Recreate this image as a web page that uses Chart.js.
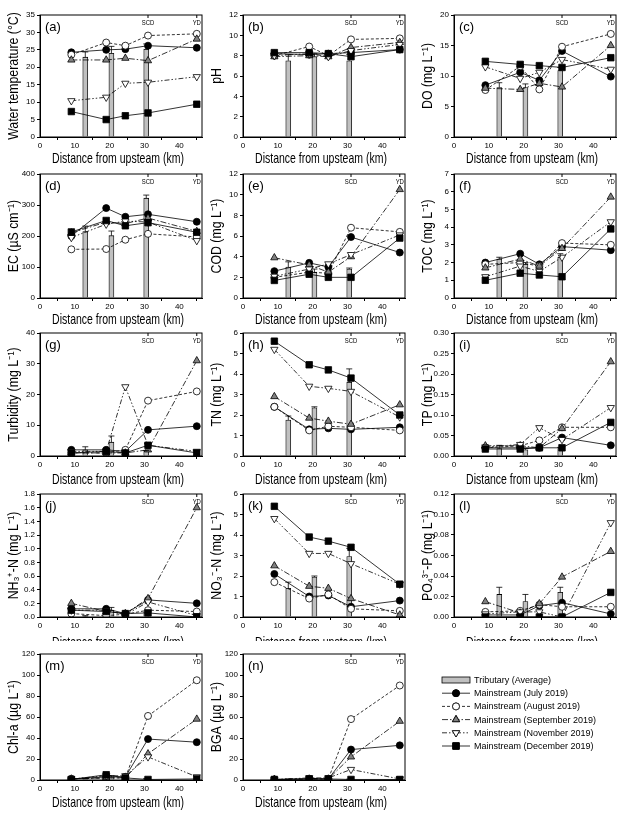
<!DOCTYPE html>
<html>
<head>
<meta charset="utf-8">
<script src="https://cdn.jsdelivr.net/npm/chart.js@4.4.1/dist/chart.umd.min.js"></script>
<style>
body { margin: 0; background: #fff; width: 629px; height: 820px; position: relative; overflow: hidden; }
canvas { position: absolute; }
#cover { position: absolute; left: 0; top: 641px; width: 629px; height: 179px; background: #fff; z-index: 1; }
.front { z-index: 2; }
</style>
</head>
<body>
<div id="cover"></div>
<script>
// sampling sites (km from upstream)
const sites = [9, 19, 24.5, 31, 45];
const tribSites = [13, 20.5, 30.5];
const distTicks = [0, 10, 20, 30, 40];
const months = ['July 2019', 'August 2019', 'September 2019', 'November 2019', 'December 2019'];

// rows: July, August, September, November, December
const tempMain = [[24.3, 25.0, 25.2, 26.2, 25.6], [23.6, 27.1, 26.2, 29.1, 29.6], [22.1, 22.1, 22.6, 21.9, 28.1], [10.4, 11.4, 15.4, 15.7, 17.3], [7.3, 5.0, 6.1, 6.9, 9.4]];
const tempTrib = [22.9, 24.0, 25.2], tempErr = [1.5, 2.0, 1.5];

const phMain = [[8.2, 8.1, 8.2, 8.3, 8.6], [8.0, 8.9, 8.0, 9.6, 9.7], [7.9, 8.0, 7.9, 8.8, 9.3], [8.0, 8.2, 7.9, 8.5, 9.1], [8.3, 8.3, 8.2, 7.9, 8.6]];
const phTrib = [7.5, 7.9, 7.5], phErr = [0.6, 0.3, 0.6];

const doMain = [[8.5, 10.6, 9.3, 14.1, 9.9], [7.7, 11.6, 7.8, 14.8, 16.9], [8.0, 7.8, 8.8, 8.2, 15.0], [11.5, 9.6, 10.6, 12.7, 11.1], [12.4, 11.9, 11.7, 11.4, 13.0]];
const doTrib = [8.1, 8.1, 10.9], doErr = [0.8, 0.6, 0.5];

const ecMain = [[200, 290, 262, 270, 246], [157, 158, 188, 207, 197], [210, 245, 240, 258, 215], [195, 238, 248, 245, 185], [213, 250, 233, 243, 212]];
const ecTrib = [214, 201, 322], ecErr = [18, 15, 10];

const codMain = [[2.6, 3.4, 3.0, 5.9, 4.4], [2.0, 2.5, 2.4, 6.8, 6.4], [3.9, 3.2, 2.5, 4.0, 10.5], [2.1, 2.8, 3.3, 4.2, 6.1], [1.7, 2.3, 2.0, 2.0, 5.8]];
const codTrib = [3.0, 2.5, 2.8], codErr = [0.5, 0.3, 0.1];

const tocMain = [[2.0, 2.5, 1.9, 2.9, 2.7], [1.9, 2.0, 1.8, 3.1, 3.0], [1.7, 2.2, 1.8, 2.8, 5.7], [1.2, 1.8, 1.5, 2.3, 4.3], [1.0, 1.4, 1.3, 1.2, 3.9]];
const tocTrib = [2.2, 1.9, 2.3], tocErr = [0.1, 0.1, 0.2];

const turbMain = [[2.0, 2.0, 1.5, 8.5, 9.7], [1.0, 1.0, 2.0, 18.0, 21.0], [1.0, 1.0, 1.0, 2.0, 31.0], [1.5, 1.5, 22.5, 3.5, 1.5], [1.0, 1.5, 1.0, 3.5, 1.0]];
const turbTrib = [2.0, 4.5, 1.5], turbErr = [1.0, 2.0, 0.3];

const tnMain = [[2.4, 1.3, 1.35, 1.3, 1.4], [2.4, 1.25, 1.45, 1.4, 1.25], [2.9, 1.85, 1.7, 1.55, 2.5], [5.2, 3.4, 3.3, 3.15, 1.9], [5.6, 4.45, 4.2, 3.8, 2.0]];
const tnTrib = [1.75, 2.35, 3.6], tnErr = [0.2, 0.05, 0.65];

const tpMain = [[0.02, 0.02, 0.02, 0.045, 0.026], [0.02, 0.025, 0.038, 0.07, 0.07], [0.025, 0.025, 0.02, 0.067, 0.23], [0.022, 0.028, 0.069, 0.04, 0.118], [0.017, 0.017, 0.02, 0.02, 0.082]];
const tpTrib = [0.018, 0.015, 0.018], tpErr = [0.008, 0.003, 0.003];

const nh3Main = [[0.12, 0.12, 0.05, 0.25, 0.2], [0.05, 0.02, 0.04, 0.1, 0.08], [0.2, 0.08, 0.05, 0.27, 1.6], [0.1, 0.1, 0.03, 0.22, 0.02], [0.1, 0.08, 0.05, 0.06, 0.0]];
const nh3Trib = [0.01, 0.1, 0.05], nh3Err = [0.01, 0.04, 0.02];

const no3Main = [[2.1, 1.0, 1.05, 0.5, 0.8], [1.7, 0.9, 1.1, 0.4, 0.3], [2.5, 1.5, 1.4, 0.9, 0.1], [4.8, 3.1, 3.1, 2.6, 1.6], [5.4, 3.9, 3.7, 3.4, 1.6]];
const no3Trib = [1.4, 1.95, 2.95], no3Err = [0.3, 0.05, 0.4];

const po4Main = [[0.002, 0.002, 0.011, 0.014, 0.003], [0.005, 0.006, 0.012, 0.010, 0.010], [0.015, 0.004, 0.013, 0.039, 0.064], [0.003, 0.005, 0.005, 0.000, 0.092], [0.000, 0.000, 0.000, 0.000, 0.024]];
const po4Trib = [0.022, 0.015, 0.024], po4Err = [0.007, 0.007, 0.005];

const chlMain = [[1, 3, 3, 39, 36], [1, 2, 2, 61, 95], [1, 2, 2, 25, 58], [1, 4, 4, 22, 3], [0.5, 5, 2, 0.5, 1]];
const chlTrib = [1, 3, 1], chlErr = [0.5, 1, 0.5];

const bgaMain = [[0.5, 1, 1, 29, 33], [0.5, 1, 1, 58, 90], [0.5, 1, 1, 22, 56], [0.5, 2, 2, 10, 1], [0.5, 1, 1, 0.5, 0.5]];
const bgaTrib = [0.5, 1, 0.5], bgaErr = [0.3, 0.5, 0.3];

const SANS = "'Liberation Sans', Arial, sans-serif";
const XTITLE = 'Distance from upsteam (km)';

// marker/line style per month
const styles = [
  { dash: [], point: 'circle', rot: 0, r: 3.5, fill: '#000' },
  { dash: [3, 2], point: 'circle', rot: 0, r: 3.5, fill: '#fff' },
  { dash: [6, 2, 1.5, 2], point: 'triangle', rot: 0, r: 4.2, fill: '#808080' },
  { dash: [5, 2, 1.5, 2, 1.5, 2], point: 'triangle', rot: 180, r: 4.2, fill: '#fff' },
  { dash: [], point: 'rect', rot: 0, r: 4.6, fill: '#000' }
];

const colLeft = [40, 243, 454];
const rowTop = [15, 174, 333, 494, 654];
const rowH = [122, 124, 123, 123, 126];
const titleGap = [22, 22, 24, 26, 23];
const PW = 162, PADL = 40, PADT = 14, PADR = 6, PADB = 38;

const panels = [
  { tag: '(a)', title: 'Water temperature (°C)', main: tempMain, trib: tempTrib, err: tempErr, max: 35, step: 5, dec: 0 },
  { tag: '(b)', title: 'pH', main: phMain, trib: phTrib, err: phErr, max: 12, step: 2, dec: 0 },
  { tag: '(c)', title: 'DO (mg L\u207B\u00B9)', main: doMain, trib: doTrib, err: doErr, max: 20, step: 5, dec: 0 },
  { tag: '(d)', title: 'EC (\u00B5S cm\u207B\u00B9)', main: ecMain, trib: ecTrib, err: ecErr, max: 400, step: 100, dec: 0 },
  { tag: '(e)', title: 'COD (mg L\u207B\u00B9)', main: codMain, trib: codTrib, err: codErr, max: 12, step: 2, dec: 0 },
  { tag: '(f)', title: 'TOC (mg L\u207B\u00B9)', main: tocMain, trib: tocTrib, err: tocErr, max: 7, step: 1, dec: 0 },
  { tag: '(g)', title: 'Turbidity (mg L\u207B\u00B9)', main: turbMain, trib: turbTrib, err: turbErr, max: 40, step: 10, dec: 0 },
  { tag: '(h)', title: 'TN (mg L\u207B\u00B9)', main: tnMain, trib: tnTrib, err: tnErr, max: 6, step: 1, dec: 0 },
  { tag: '(i)', title: 'TP (mg L\u207B\u00B9)', main: tpMain, trib: tpTrib, err: tpErr, max: 0.30, step: 0.05, dec: 2 },
  { tag: '(j)', title: 'NH\u2083\u207A-N (mg L\u207B\u00B9)', main: nh3Main, trib: nh3Trib, err: nh3Err, max: 1.8, step: 0.2, dec: 1 },
  { tag: '(k)', title: 'NO\u2083\u207B-N (mg L\u207B\u00B9)', main: no3Main, trib: no3Trib, err: no3Err, max: 6, step: 1, dec: 0 },
  { tag: '(l)', title: 'PO\u2084\u00B3\u207B-P (mg L\u207B\u00B9)', main: po4Main, trib: po4Trib, err: po4Err, max: 0.12, step: 0.02, dec: 2 },
  { tag: '(m)', title: 'Chl-a (\u00B5g L\u207B\u00B9)', main: chlMain, trib: chlTrib, err: chlErr, max: 120, step: 20, dec: 0 },
  { tag: '(n)', title: 'BGA (\u00B5g L\u207B\u00B9)', main: bgaMain, trib: bgaTrib, err: bgaErr, max: 120, step: 20, dec: 0 }
];

// frame, panel tag, SCD / YD marks, error bars, condensed axis titles
const decor = {
  id: 'decor',
  afterDatasetsDraw(chart, args, opts) {
    const ctx = chart.ctx, a = chart.chartArea;
    const xs = chart.scales.x, ys = chart.scales.y;
    ctx.save();
    ctx.strokeStyle = '#000';
    ctx.lineWidth = 0.8;
    const bars = chart.getDatasetMeta(0).data;
    opts.err.forEach((e, i) => {
      const bar = bars[i];
      const top = ys.getPixelForValue(opts.trib[i] + e);
      ctx.beginPath();
      ctx.moveTo(bar.x, bar.y);
      ctx.lineTo(bar.x, top);
      ctx.moveTo(bar.x - 3, top);
      ctx.lineTo(bar.x + 3, top);
      ctx.stroke();
    });
    ctx.lineWidth = 1;
    ctx.strokeRect(a.left, a.top, a.right - a.left, a.bottom - a.top);
    ctx.fillStyle = '#000';
    ctx.font = '13px ' + SANS;
    ctx.textBaseline = 'middle';
    ctx.textAlign = 'left';
    ctx.fillText(opts.tag, a.left + 5, a.top + 12);
    ctx.font = '7px ' + SANS;
    ctx.textAlign = 'center';
    [[31, 'SCD'], [45, 'YD']].forEach(([km, name]) => {
      const px = xs.getPixelForValue(km);
      ctx.beginPath();
      ctx.moveTo(px, a.top);
      ctx.lineTo(px, a.top + 3);
      ctx.stroke();
      ctx.save();
      ctx.translate(px, a.top + 8);
      ctx.scale(0.85, 1);
      ctx.fillText(name, 0, 0);
      ctx.restore();
    });
    // x title
    ctx.save();
    ctx.font = '15px ' + SANS;
    ctx.translate((a.left + a.right) / 2 - 3, a.bottom + opts.gap);
    ctx.scale(0.7, 1);
    ctx.fillText(XTITLE, 0, 0);
    ctx.restore();
    // y title
    ctx.save();
    ctx.font = '14px ' + SANS;
    ctx.translate(a.left - 26, (a.top + a.bottom) / 2);
    ctx.rotate(-Math.PI / 2);
    ctx.scale(0.88, 1);
    ctx.fillText(opts.title, 0, 0);
    ctx.restore();
    ctx.restore();
  }
};

function makePanel(p, idx) {
  const col = idx % 3, row = Math.floor(idx / 3);
  const h = rowH[row];
  p.gap = titleGap[row];
  const cv = document.createElement('canvas');
  const w = PADL + PW + PADR, ch = PADT + h + PADB;
  cv.width = w; cv.height = ch;
  cv.style.left = (colLeft[col] - PADL) + 'px';
  cv.style.top = (rowTop[row] - PADT) + 'px';
  if (row === 4) cv.className = 'front';
  document.body.appendChild(cv);

  const datasets = [{
    type: 'bar',
    label: 'Tributary (Average)',
    data: tribSites.map((x, i) => ({ x: x, y: p.trib[i] })),
    backgroundColor: '#c0c0c0',
    borderColor: '#000',
    borderWidth: 0.8,
    barThickness: 5,
    order: 10
  }];
  p.main.forEach((vals, i) => {
    const s = styles[i];
    datasets.push({
      type: 'line',
      label: 'Mainstream (' + months[i] + ')',
      data: sites.map((x, j) => ({ x: x, y: vals[j] })),
      borderColor: '#000',
      borderWidth: 0.8,
      borderDash: s.dash,
      pointStyle: s.point,
      rotation: s.rot,
      pointRadius: s.r,
      pointBackgroundColor: s.fill,
      pointBorderColor: '#000',
      pointBorderWidth: 0.8,
      tension: 0,
      order: 5 - i
    });
  });

  new Chart(cv, {
    type: 'bar',
    data: { datasets: datasets },
    options: {
      responsive: false,
      animation: false,
      devicePixelRatio: 1,
      layout: { padding: { left: 0, top: PADT, right: PADR, bottom: 0 } },
      plugins: { legend: { display: false }, tooltip: { enabled: false }, decor: p },
      scales: {
        x: {
          type: 'linear', min: 0, max: 46.5, offset: false,
          ticks: { color: '#000', font: { size: 8, family: SANS }, padding: 1, maxRotation: 0, autoSkip: false },
          afterBuildTicks: s => { s.ticks = distTicks.map(v => ({ value: v })); },
          grid: { drawOnChartArea: false, tickLength: 3, color: '#000' },
          border: { color: '#000', width: 1 },
          title: { display: false },
          afterFit: s => { s.height = PADB; }
        },
        y: {
          min: 0, max: p.max,
          ticks: { stepSize: p.step, color: '#000', font: { size: 8, family: SANS }, padding: 2, callback: v => Number(v).toFixed(p.dec) },
          grid: { drawOnChartArea: false, tickLength: 3, color: '#000' },
          border: { color: '#000', width: 1 },
          title: { display: false },
          afterFit: s => { s.width = PADL; }
        }
      }
    },
    plugins: [decor]
  });
}

panels.forEach(makePanel);

// legend box
const legendDraw = {
  id: 'legendDraw',
  afterDraw(chart) {
    const ctx = chart.ctx;
    ctx.save();
    ctx.font = '9px ' + SANS;
    ctx.textBaseline = 'middle';
    ctx.fillStyle = '#000';
    chart.data.datasets.forEach((ds, i) => {
      const y = 15 + i * 13.2;
      ctx.strokeStyle = '#000';
      ctx.lineWidth = 0.8;
      if (ds.type === 'bar') {
        ctx.fillStyle = ds.backgroundColor;
        ctx.fillRect(12, y - 3, 28, 6);
        ctx.strokeRect(12, y - 3, 28, 6);
      } else {
        ctx.setLineDash(ds.borderDash);
        ctx.beginPath();
        ctx.moveTo(12, y);
        ctx.lineTo(40, y);
        ctx.stroke();
        ctx.setLineDash([]);
        ctx.fillStyle = ds.pointBackgroundColor;
        Chart.helpers.drawPoint(ctx, { pointStyle: ds.pointStyle, rotation: ds.rotation, radius: ds.pointRadius, borderWidth: 0.8 }, 26, y);
        ctx.fill();
        ctx.stroke();
      }
      ctx.fillStyle = '#000';
      ctx.fillText(ds.label, 44, y + 0.5);
    });
    ctx.restore();
  }
};

const lg = document.createElement('canvas');
lg.width = 200; lg.height = 100;
lg.className = 'front';
lg.style.left = '430px'; lg.style.top = '665px';
document.body.appendChild(lg);
const legendSets = [{ type: 'bar', label: 'Tributary (Average)', backgroundColor: '#c0c0c0', data: [] }];
months.forEach((m, i) => {
  const s = styles[i];
  legendSets.push({ type: 'line', label: 'Mainstream (' + m + ')', borderDash: s.dash, pointStyle: s.point, rotation: s.rot, pointRadius: s.r, pointBackgroundColor: s.fill, data: [] });
});
new Chart(lg, {
  type: 'line',
  data: { datasets: legendSets },
  options: {
    responsive: false, animation: false, devicePixelRatio: 1,
    scales: { x: { display: false }, y: { display: false } },
    plugins: { legend: { display: false }, tooltip: { enabled: false } }
  },
  plugins: [legendDraw]
});
</script>
</body>
</html>
